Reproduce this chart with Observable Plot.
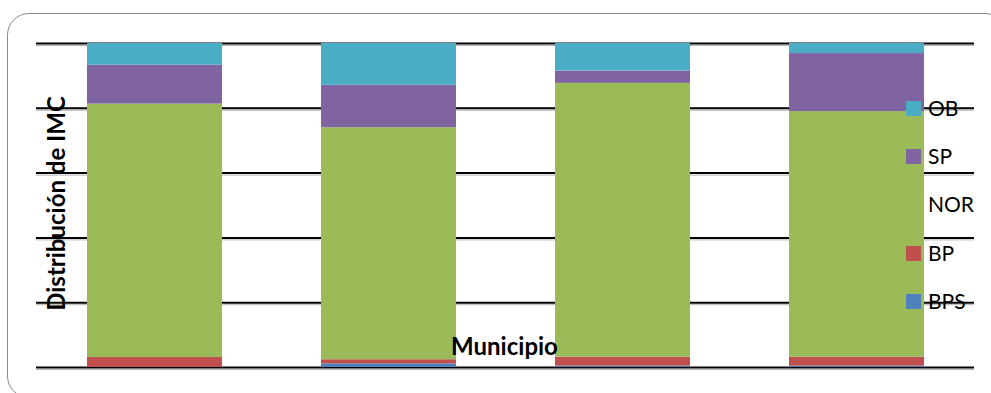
<!DOCTYPE html>
<html>
<head>
<meta charset="utf-8">
<script src="https://cdn.jsdelivr.net/npm/d3@7"></script>
<script src="https://cdn.jsdelivr.net/npm/@observablehq/plot@0.6"></script>
<style>
  html, body { margin: 0; padding: 0; background: #fff; overflow: hidden; }
  #wrap { position: relative; width: 991px; height: 393px; overflow: hidden; font-family: Lato, "Open Sans", sans-serif; }
  #frame { position: absolute; left: 7px; top: 13px; width: 1000px; height: 385px; border: 1.5px solid #8a8a8a; border-radius: 22px; box-sizing: border-box; }
  #chart { position: absolute; left: 0; top: 0; }
  #legend { position: absolute; left: 906px; top: 0; }
  .item { position: absolute; left: 0; height: 20px; display: flex; align-items: center; white-space: nowrap; }
  .sw { width: 15px; height: 15px; margin-right: 7px; flex: none; }
  .lab { font-size: 21px; color: #000; line-height: 20px; }
</style>
</head>
<body>
<div id="wrap">
  <div id="frame"></div>
  <div id="chart"></div>
  <div id="legend"></div>
</div>
<script>
// Municipalities (no tick labels shown in the reference)
const municipios = ["Municipio 1", "Municipio 2", "Municipio 3", "Municipio 4"];
// IMC categories, stacked bottom → top
const categorias = ["BPS", "BP", "NOR", "SP", "OB"];
// Percent share per municipality
const BPS = [0.0, 1.1, 0.4, 0.4];
const BP  = [3.1, 1.3, 2.8, 2.8];
const NOR = [78.2, 71.6, 84.5, 75.8];
const SP  = [12.0, 13.1, 3.8, 17.9];
const OB  = [6.7, 12.9, 8.5, 3.1];
const yTicks = [0, 20, 40, 60, 80, 100];
const colores = ["#4F81BD", "#C0504D", "#9BBB59", "#8064A2", "#4BACC6"];
// Legend order (top → bottom) and swatch visibility as in the reference
const legendOrder = ["OB", "SP", "NOR", "BP", "BPS"];
const legendSwatch = {OB: "#4BACC6", SP: "#8064A2", NOR: "transparent", BP: "#C0504D", BPS: "#4F81BD"};

const series = {BPS, BP, NOR, SP, OB};
const table = [];
municipios.forEach((m, i) => {
  categorias.forEach(c => table.push({municipio: m, categoria: c, valor: series[c][i]}));
});

const plot = Plot.plot({
  width: 991,
  height: 393,
  marginLeft: 36,
  marginRight: 17,
  marginTop: 43,
  marginBottom: 26,
  style: {fontFamily: "Lato, 'Open Sans', sans-serif", background: "transparent"},
  x: {domain: municipios, paddingInner: 0.424, paddingOuter: 0.212, axis: null},
  y: {domain: [0, 100], axis: null},
  color: {domain: categorias, range: colores},
  marks: [
    Plot.ruleY(yTicks, {stroke: "#b4b4b4", strokeWidth: 1, dy: 2}),
    Plot.ruleY(yTicks, {stroke: "#000", strokeWidth: 2}),
    Plot.barY(table, Plot.stackY({x: "municipio", y: "valor", fill: "categoria", order: categorias})),
    Plot.text(["Distribución de IMC"], {text: d => d, frameAnchor: "left", rotate: -90, dx: 21, dy: -2, fontSize: 24, fontWeight: "bold", fill: "#000", textAnchor: "middle", lineAnchor: "middle"}),
    Plot.text(["Municipio"], {text: d => d, frameAnchor: "bottom", dx: -1, dy: -20, fontSize: 24, fontWeight: "bold", fill: "#000", textAnchor: "middle", lineAnchor: "middle"})
  ]
});
document.getElementById("chart").appendChild(plot);

const legend = document.getElementById("legend");
const legendTop = [98, 146, 194, 243, 291];
legendOrder.forEach((k, i) => {
  const item = document.createElement("div");
  item.className = "item";
  item.style.top = legendTop[i] + "px";
  const sw = document.createElement("div");
  sw.className = "sw";
  sw.style.background = legendSwatch[k];
  const lab = document.createElement("span");
  lab.className = "lab";
  lab.textContent = k;
  item.appendChild(sw);
  item.appendChild(lab);
  legend.appendChild(item);
});
</script>
</body>
</html>
